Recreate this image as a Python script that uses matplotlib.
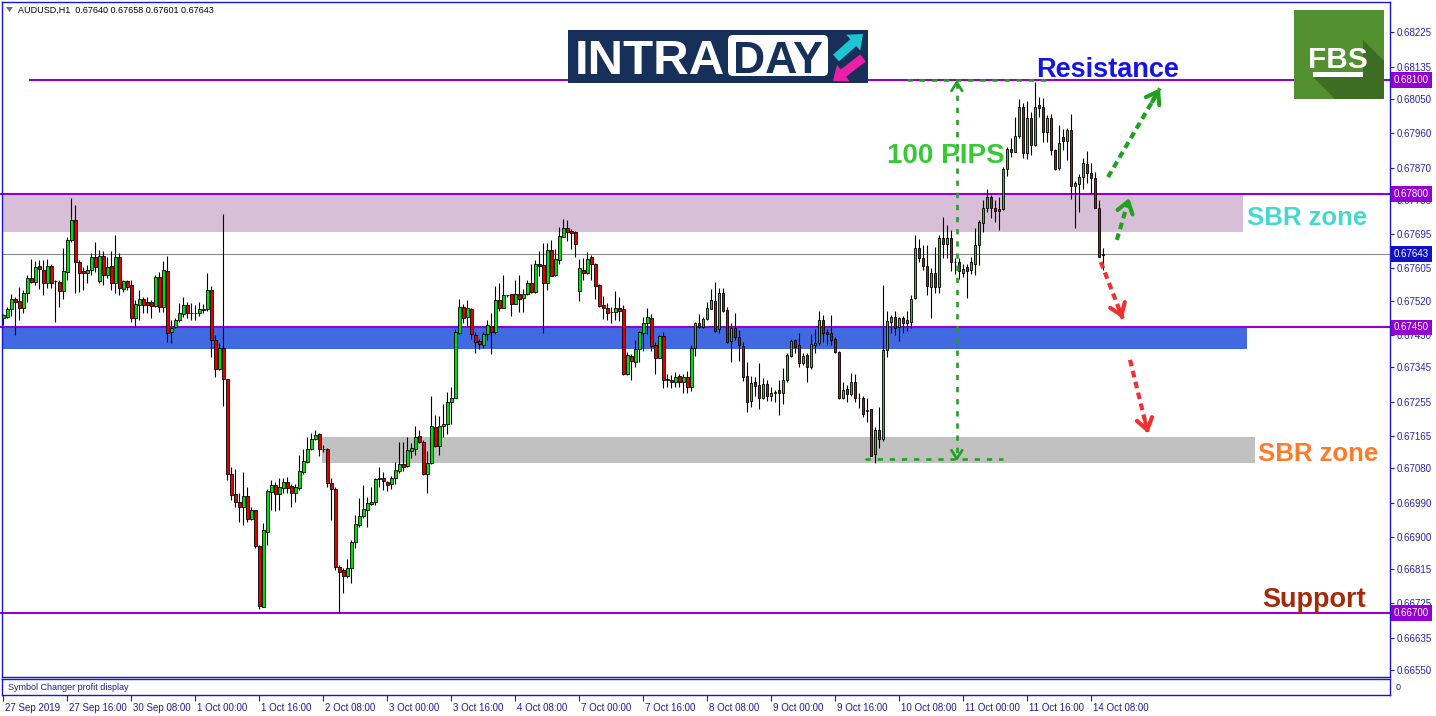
import numpy as np
import matplotlib
matplotlib.use("Agg")
import matplotlib.pyplot as plt
import matplotlib.transforms as mtransforms
from matplotlib.patches import Rectangle, Polygon, FancyBboxPatch

# ---------------- data (prices in points, 1 point = 0.00001) ----------------
opens = [
    67474, 67478, 67498, 67526, 67519, 67500, 67540, 67579, 67570, 67611,
    67601, 67566, 67611, 67573, 67569, 67546, 67595, 67681, 67732, 67621,
    67598, 67592, 67601, 67634, 67573, 67639, 67589, 67611, 67568, 67634,
    67550, 67573, 67561, 67474, 67509, 67526, 67516, 67516, 67507, 67582,
    67505, 67598, 67439, 67452, 67470, 67485, 67509, 67489, 67488, 67489,
    67498, 67498, 67548, 67417, 67340, 67395, 67314, 67065, 67012, 66992,
    66978, 67007, 66946, 66970, 66876, 66717, 66914, 67019, 67036, 67012,
    67028, 67045, 67033, 67014, 67028, 67071, 67097, 67132, 67156, 67169,
    67132, 67132, 67042, 67027, 66820, 66813, 66797, 66819, 66886, 66931,
    66955, 66970, 66986, 66992, 67051, 67054, 67043, 67040, 67054, 67073,
    67091, 67087, 67126, 67132, 67165, 67148, 67065, 67093, 67188, 67139,
    67191, 67196, 67254, 67266, 67435, 67504, 67478, 67499, 67429, 67414,
    67405, 67433, 67454, 67439, 67522, 67502, 67534, 67537, 67512, 67537,
    67527, 67538, 67566, 67544, 67617, 67614, 67566, 67653, 67588, 67627,
    67688, 67710, 67703, 67700, 67547, 67601, 67592, 67634, 67617, 67562,
    67509, 67500, 67490, 67491, 67500, 67498, 67328, 67375, 67360, 67393,
    67435, 67461, 67474, 67404, 67371, 67428, 67312, 67311, 67308, 67323,
    67308, 67321, 67294, 67395, 67463, 67452, 67472, 67499, 67520, 67445,
    67540, 67495, 67415, 67448, 67426, 67401, 67322, 67258, 67306, 67299,
    67266, 67301, 67270, 67277, 67286, 67277, 67312, 67376, 67417, 67403,
    67356, 67378, 67347, 67403, 67408, 67470, 67439, 67436, 67421, 67385,
    67266, 67288, 67274, 67307, 67264, 67265, 67233, 67235, 67117, 67182,
    67156, 67391, 67465, 67478, 67452, 67474, 67461, 67465, 67527, 67658,
    67632, 67611, 67557, 67592, 67557, 67684, 67668, 67684, 67621, 67622,
    67592, 67608, 67601, 67618, 67667, 67724, 67765, 67792, 67763, 67760,
    67760, 67865, 67920, 67912, 67954, 68030, 67909, 68001, 67928, 68034,
    68028, 67964, 68001, 67917, 67870, 67949, 67941, 67970, 67822, 67828,
    67846, 67879, 67857, 67842, 67765, 67640,
]
highs = [
    67485, 67505, 67538, 67531, 67557, 67548, 67588, 67629, 67625, 67627,
    67627, 67629, 67617, 67575, 67576, 67658, 67688, 67789, 67772, 67627,
    67610, 67614, 67645, 67675, 67653, 67652, 67636, 67652, 67693, 67646,
    67576, 67576, 67576, 67522, 67548, 67529, 67529, 67522, 67588, 67595,
    67625, 67638, 67470, 67474, 67513, 67529, 67518, 67513, 67509, 67518,
    67512, 67594, 67559, 67430, 67408, 67748, 67314, 67084, 67077, 67014,
    67071, 67032, 66979, 66970, 66879, 66937, 67027, 67049, 67045, 67054,
    67054, 67056, 67040, 67040, 67115, 67132, 67161, 67172, 67181, 67172,
    67141, 67133, 67054, 67030, 66826, 66817, 66841, 66892, 66957, 67003,
    67036, 67004, 67032, 67054, 67084, 67071, 67048, 67061, 67097, 67148,
    67148, 67163, 67146, 67191, 67182, 67154, 67126, 67270, 67220, 67217,
    67249, 67281, 67293, 67445, 67526, 67511, 67522, 67500, 67439, 67421,
    67439, 67470, 67489, 67559, 67566, 67588, 67536, 67537, 67575, 67588,
    67550, 67575, 67617, 67627, 67652, 67671, 67671, 67681, 67655, 67713,
    67734, 67732, 67708, 67704, 67629, 67632, 67649, 67640, 67620, 67564,
    67533, 67513, 67505, 67547, 67529, 67509, 67386, 67380, 67417, 67442,
    67477, 67500, 67485, 67413, 67429, 67439, 67329, 67325, 67334, 67328,
    67329, 67336, 67404, 67465, 67485, 67477, 67518, 67551, 67570, 67553,
    67553, 67505, 67461, 67489, 67443, 67413, 67360, 67323, 67319, 67356,
    67316, 67312, 67293, 67286, 67312, 67343, 67382, 67421, 67421, 67435,
    67382, 67382, 67433, 67445, 67493, 67483, 67446, 67483, 67426, 67388,
    67308, 67299, 67330, 67328, 67277, 67270, 67264, 67237, 67189, 67240,
    67562, 67492, 67484, 67492, 67478, 67480, 67492, 67535, 67693, 67682,
    67667, 67667, 67605, 67662, 67693, 67739, 67719, 67706, 67632, 67633,
    67618, 67618, 67636, 67710, 67732, 67785, 67815, 67798, 67785, 67794,
    67872, 67925, 67947, 68004, 68050, 68039, 68045, 68015, 68096, 68056,
    68054, 68008, 68010, 67920, 67982, 67971, 67973, 68012, 67835, 67852,
    67894, 67914, 67881, 67859, 67785, 67658,
]
lows = [
    67456, 67476, 67480, 67430, 67470, 67487, 67518, 67566, 67561, 67550,
    67535, 67553, 67553, 67465, 67503, 67526, 67576, 67675, 67540, 67544,
    67548, 67566, 67588, 67596, 67566, 67561, 67579, 67548, 67540, 67535,
    67544, 67548, 67465, 67452, 67470, 67487, 67487, 67474, 67505, 67491,
    67491, 67413, 67408, 67448, 67465, 67478, 67474, 67470, 67470, 67480,
    67487, 67494, 67373, 67321, 67338, 67245, 67049, 66997, 66979, 66940,
    66931, 66940, 66944, 66870, 66710, 66715, 66879, 66970, 66969, 66970,
    67016, 67014, 66978, 66992, 67023, 67065, 67095, 67128, 67154, 67112,
    67124, 67032, 66944, 66813, 66701, 66753, 66791, 66780, 66870, 66925,
    66949, 66927, 66984, 66984, 67032, 67023, 67021, 67027, 67040, 67069,
    67074, 67084, 67106, 67115, 67146, 67062, 67016, 67091, 67135, 67115,
    67163, 67170, 67196, 67264, 67433, 67463, 67454, 67420, 67384, 67393,
    67395, 67417, 67380, 67433, 67494, 67500, 67529, 67480, 67512, 67491,
    67491, 67534, 67541, 67540, 67585, 67436, 67548, 67585, 67585, 67617,
    67688, 67678, 67655, 67634, 67520, 67576, 67590, 67575, 67524, 67503,
    67471, 67470, 67461, 67470, 67468, 67325, 67325, 67312, 67347, 67360,
    67389, 67433, 67389, 67328, 67369, 67292, 67293, 67292, 67294, 67294,
    67279, 67279, 67284, 67375, 67448, 67448, 67470, 67498, 67439, 67436,
    67491, 67410, 67360, 67417, 67363, 67310, 67227, 67240, 67270, 67237,
    67263, 67258, 67257, 67255, 67220, 67249, 67308, 67372, 67382, 67345,
    67351, 67306, 67340, 67382, 67404, 67413, 67406, 67404, 67382, 67263,
    67263, 67255, 67270, 67255, 67238, 67214, 67203, 67112, 67095, 67134,
    67153, 67373, 67435, 67430, 67415, 67435, 67441, 67448, 67526, 67623,
    67601, 67535, 67474, 67540, 67540, 67632, 67632, 67598, 67590, 67577,
    67583, 67528, 67590, 67588, 67614, 67700, 67752, 67738, 67728, 67706,
    67758, 67849, 67899, 67910, 67947, 67894, 67892, 67903, 67927, 68004,
    67938, 67938, 67903, 67864, 67864, 67916, 67890, 67787, 67710, 67754,
    67815, 67829, 67802, 67763, 67636, 67601,
]
closes = [
    67483, 67498, 67526, 67518, 67500, 67540, 67579, 67570, 67608, 67603,
    67566, 67611, 67568, 67573, 67547, 67598, 67681, 67732, 67621, 67592,
    67592, 67601, 67634, 67608, 67639, 67588, 67608, 67568, 67634, 67553,
    67573, 67557, 67474, 67512, 67526, 67509, 67509, 67507, 67582, 67505,
    67601, 67436, 67448, 67470, 67487, 67509, 67487, 67488, 67489, 67498,
    67497, 67548, 67417, 67340, 67395, 67314, 67065, 67010, 66992, 66978,
    67007, 66946, 66970, 66876, 66718, 66918, 67021, 67036, 67012, 67030,
    67045, 67028, 67014, 67030, 67074, 67099, 67132, 67156, 67168, 67132,
    67132, 67041, 67027, 66820, 66808, 66797, 66817, 66886, 66935, 66955,
    66972, 66988, 66991, 67051, 67054, 67048, 67036, 67054, 67075, 67091,
    67084, 67128, 67133, 67161, 67150, 67065, 67093, 67191, 67139, 67191,
    67196, 67254, 67266, 67438, 67504, 67476, 67501, 67432, 67413, 67407,
    67432, 67456, 67439, 67522, 67502, 67534, 67535, 67512, 67537, 67526,
    67538, 67566, 67544, 67617, 67612, 67566, 67653, 67586, 67629, 67690,
    67710, 67702, 67699, 67668, 67605, 67592, 67629, 67617, 67560, 67507,
    67500, 67489, 67491, 67500, 67494, 67328, 67378, 67363, 67393, 67437,
    67463, 67477, 67402, 67371, 67428, 67312, 67314, 67308, 67319, 67308,
    67320, 67293, 67395, 67461, 67452, 67472, 67500, 67522, 67442, 67541,
    67494, 67413, 67448, 67426, 67404, 67321, 67255, 67305, 67297, 67266,
    67301, 67270, 67277, 67281, 67277, 67312, 67378, 67414, 67400, 67356,
    67375, 67347, 67407, 67408, 67470, 67436, 67432, 67417, 67385, 67266,
    67286, 67274, 67308, 67264, 67265, 67224, 67230, 67113, 67182, 67156,
    67391, 67467, 67478, 67448, 67474, 67461, 67470, 67526, 67660, 67632,
    67611, 67559, 67592, 67557, 67684, 67668, 67684, 67621, 67622, 67599,
    67604, 67599, 67621, 67667, 67726, 67763, 67792, 67765, 67756, 67757,
    67865, 67920, 67912, 67954, 68030, 67909, 68001, 67928, 68030, 68027,
    67964, 68001, 67916, 67865, 67934, 67941, 67970, 67822, 67829, 67844,
    67881, 67855, 67842, 67763, 67636, 67643,
]

date_tick_bars = [0, 16, 32, 48, 64, 80, 96, 112, 128, 144, 160, 176, 192, 208, 224, 240, 256, 272]
date_labels = ["27 Sep 2019", "27 Sep 16:00", "30 Sep 08:00", "1 Oct 00:00", "1 Oct 16:00",
               "2 Oct 08:00", "3 Oct 00:00", "3 Oct 16:00", "4 Oct 08:00", "7 Oct 00:00",
               "7 Oct 16:00", "8 Oct 08:00", "9 Oct 00:00", "9 Oct 16:00", "10 Oct 08:00",
               "11 Oct 00:00", "11 Oct 16:00", "14 Oct 08:00"]
price_ticks = [0.68225, 0.68135, 0.68050, 0.67960, 0.67870, 0.67785, 0.67695, 0.67605,
               0.67520, 0.67430, 0.67345, 0.67255, 0.67165, 0.67080, 0.66990, 0.66900,
               0.66815, 0.66725, 0.66635, 0.66550]

levels = [0.68100, 0.67800, 0.67450, 0.66700]
level_start_bar = [6.7, -1.0, -1.0, -1.0]
current_price = 0.67643
zone_pink = (0.67700, 0.67800, -1.0, 309.9)
zone_blue = (0.67393, 0.67450, -1.0, 310.9)
zone_grey = (0.67094, 0.67162, 79.7, 312.9)
title = "AUDUSD,H1  0.67640 0.67658 0.67601 0.67643"

# ---------------- style ----------------
W, H = 1436, 716
PURPLE = "#9400D3"
AXBLUE = "#1818D0"
LBLBLUE = "#2424B8"
GREEN_C = "#00E000"
RED_C = "#E00000"
DASHGREEN = "#21A121"

plt.rcParams["font.family"] = ["Liberation Sans", "DejaVu Sans"]

SC = 1e5
o = np.array(opens) / SC
h = np.array(highs) / SC
l = np.array(lows) / SC
c = np.array(closes) / SC
x = np.arange(len(o))

fig = plt.figure(figsize=(W / 100, H / 100), dpi=100, facecolor="white")
ax = fig.add_axes([2 / W, 39 / H, 1388 / W, 675 / H])
XL = (-0.33, 346.7)
ax.set_xlim(*XL)
ax.set_ylim(0.665319, 0.683049)

# zones
for lo_p, hi_p, x0, x1, col in [(*zone_pink, "#D8BFD8"), (*zone_blue, "#4169E1"), (*zone_grey, "#C0C0C0")]:
    ax.add_patch(Rectangle((x0, lo_p), x1 - x0, hi_p - lo_p, facecolor=col, edgecolor="none", zorder=1))

# current price line
ax.plot(XL, [current_price, current_price], color="#8C8C8C", lw=0.8, zorder=1.5)
# levels
for lv, xs in zip(levels, level_start_bar):
    ax.plot([xs, XL[1] + 1], [lv, lv], color=PURPLE, lw=1.5, zorder=1.6, clip_on=False)

# candles
up = c >= o
ax.vlines(x, l, h, color="black", lw=0.8, zorder=3)
ax.bar(x[up], (c - o)[up], bottom=o[up], width=0.62, color=GREEN_C, edgecolor="black", linewidth=0.6, zorder=4)
ax.bar(x[~up], (c - o)[~up], bottom=o[~up], width=0.62, color=RED_C, edgecolor="black", linewidth=0.6, zorder=4)

# 100 pips measurement
dash = (0, (2.0, 2.6))
ax.plot([225.9, 262.4], [0.68100, 0.68100], color=DASHGREEN, lw=1.9, ls=dash, zorder=5)
ax.plot([238.4, 238.4], [0.68092, 0.67105], color=DASHGREEN, lw=1.9, ls=dash, zorder=5)
ax.plot([215.4, 249.9], [0.67105, 0.67105], color=DASHGREEN, lw=1.9, ls=dash, zorder=5)
ax.plot([237.1, 238.4, 239.7], [0.68072, 0.68094, 0.68072], color=DASHGREEN, lw=1.9, zorder=5)
ax.plot([237.1, 238.4, 239.7], [0.67127, 0.67105, 0.67127], color=DASHGREEN, lw=1.9, zorder=5)

# scenario arrows
arrows = [((278.4, 0.67680), (281.5, 0.67790), DASHGREEN),
          ((276.2, 0.67845), (289.2, 0.68078), DASHGREEN),
          ((274.4, 0.67622), (279.9, 0.67473), "#F23030"),
          ((281.7, 0.67365), (286.2, 0.67172), "#F23030")]
for (x0, y0), (x1, y1), col in arrows:
    ax.plot([x0, x1], [y0, y1], color=col, lw=3.0, ls=(0, (1.6, 1.1)), zorder=6, solid_capstyle="butt")
    ax.annotate("", xy=(x1, y1), xytext=(x0 + (x1 - x0) * 0.85, y0 + (y1 - y0) * 0.85),
                arrowprops=dict(arrowstyle="->,head_length=0.5,head_width=0.35", lw=3.0, color=col,
                                shrinkA=0, shrinkB=0, mutation_scale=16), zorder=6)

# labels
tkw = dict(family=["Liberation Sans", "DejaVu Sans"], weight="bold", va="baseline", zorder=7)
ax.text(276.2, 0.68100 - (77 - 80) / 38071, "Resistance", color="#1515E6", ha="center", fontsize=19.5, **tkw)
ax.text(235.7, 0.68100 - (163 - 80) / 38071, "100 PIPS", color="#35C935", ha="center", fontsize=20, **tkw)
ax.text(325.9, 0.68100 - (225 - 80) / 38071, "SBR zone", color="#44D8D0", ha="center", fontsize=18.5, **tkw)
ax.text(328.7, 0.68100 - (461 - 80) / 38071, "SBR zone", color="#FF7A2A", ha="center", fontsize=18.5, **tkw)
ax.text(327.7, 0.68100 - (607 - 80) / 38071, "Support", color="#A52A0A", ha="center", fontsize=19.5, **tkw)

# axes styling
ax.set_xticks([])
ax.yaxis.tick_right()
ax.set_yticks(price_ticks)
ax.set_yticklabels([f"{p:.5f}" for p in price_ticks])
ax.tick_params(axis="y", direction="out", length=3, width=0.8, color=AXBLUE, labelcolor=LBLBLUE,
               labelsize=7, pad=2)
for sp in ax.spines.values():
    sp.set_color(AXBLUE)
    sp.set_linewidth(1.0)

# price boxes on the axis
trans = mtransforms.blended_transform_factory(fig.transFigure, ax.transData)
for lv in levels:
    fig.text(1394 / W, lv, f"{lv:.5f}", transform=trans, color="white", fontsize=7, ha="left", va="center",
             bbox=dict(boxstyle="square,pad=0.28", fc=PURPLE, ec="none"), zorder=10)
fig.text(1394 / W, current_price, f"{current_price:.5f}", transform=trans, color="white", fontsize=7,
         ha="left", va="center", bbox=dict(boxstyle="square,pad=0.28", fc="#1010C8", ec="none"), zorder=10)

# sub window
sub = fig.add_axes([2 / W, 21 / H, 1388 / W, 16 / H])
sub.set_xlim(*XL)
sub.set_ylim(0, 1)
sub.set_yticks([])
sub.set_xticks(date_tick_bars)
sub.set_xticklabels(date_labels, ha="left", fontsize=7, color="#1C1C9C")
sub.tick_params(axis="x", direction="out", length=4, width=0.8, color=AXBLUE, pad=1.5)
offset = mtransforms.ScaledTranslation(1.5 / 72, 0, fig.dpi_scale_trans)
for lbl in sub.get_xticklabels():
    lbl.set_transform(lbl.get_transform() + offset)
for sp in sub.spines.values():
    sp.set_color(AXBLUE)
    sp.set_linewidth(1.0)
fig.text(8 / W, 1 - 687 / H, "Symbol Changer profit display", fontsize=6.5, color="#1C1C9C", va="center")
fig.text(1396 / W, 1 - 687 / H, "0", fontsize=6.5, color=LBLBLUE, va="center")

# title
fig.text(18 / W, 1 - 10 / H, title, fontsize=6.5, color="black", va="center")

# overlay for logos (pixel coordinates)
ov = fig.add_axes([0, 0, 1, 1], zorder=20)
ov.set_xlim(0, W)
ov.set_ylim(H, 0)
ov.axis("off")
ov.patch.set_alpha(0)

ov.add_patch(Polygon([(6, 7), (13, 7), (9.5, 12)], closed=True, fc="#707070", ec="none"))


def block_arrow(tail, tip, shaft_w, head_w, head_len):
    tail = np.array(tail, float)
    tip = np.array(tip, float)
    d = tip - tail
    u = d / np.hypot(*d)
    n = np.array([-u[1], u[0]])
    base = tip - u * head_len
    return [tail + n * shaft_w / 2, base + n * shaft_w / 2, base + n * head_w / 2, tip,
            base - n * head_w / 2, base - n * shaft_w / 2, tail - n * shaft_w / 2]


# INTRADAY logo
ov.add_patch(Rectangle((568, 30), 300, 53, fc="#17305A", ec="none"))
ov.add_patch(FancyBboxPatch((731, 38), 94, 35, boxstyle="round,pad=3,rounding_size=5", fc="white", ec="none"))
ov.text(575, 74, "INTRA", fontsize=35.5, weight="bold", color="white", ha="left", va="baseline",
        family=["Liberation Sans", "DejaVu Sans"])
ov.text(778, 73, "DAY", fontsize=32, weight="bold", color="#17305A", ha="center", va="baseline",
        family=["Liberation Sans", "DejaVu Sans"])
ov.add_patch(Polygon(block_arrow((836, 58), (863, 34), 9, 21, 13), closed=True, fc="#1CC6D2", ec="none"))
ov.add_patch(Polygon(block_arrow((863, 58), (833, 81), 9, 21, 13), closed=True, fc="#EC1FA6", ec="none"))

# FBS logo
ov.add_patch(Rectangle((1294, 10), 90, 89, fc="#53902F", ec="none"))
ov.add_patch(Polygon([(1313, 77), (1363, 77), (1363, 40), (1384, 61), (1384, 99), (1335, 99)],
                     closed=True, fc="#3D6D22", ec="none"))
ov.text(1338, 68, "FBS", fontsize=21.5, weight="bold", color="white", ha="center", va="baseline",
        family=["Liberation Sans", "DejaVu Sans"])
ov.add_patch(Rectangle((1313, 72), 50, 5, fc="white", ec="none"))

fig.savefig("out.png", dpi=100, facecolor="white")
